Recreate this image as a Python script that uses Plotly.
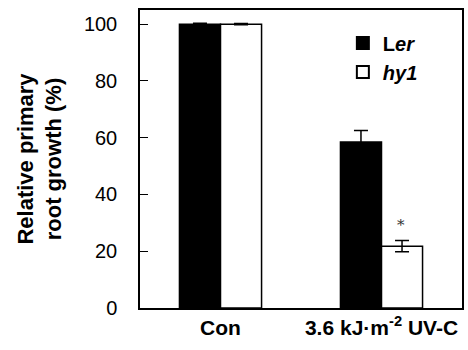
import plotly.graph_objects as go

categories = ["Con", "3.6 kJ·m<sup>-2</sup> UV-C"]
ler_values = [100, 58.5]
ler_errors = [0.3, 4.0]
hy1_values = [100, 21.8]
hy1_errors = [0.2, 2.0]
y_ticks = [0, 20, 40, 60, 80, 100]

fig = go.Figure()
fig.add_trace(go.Bar(
    x=categories, y=ler_values, name="L<i>er</i>",
    marker=dict(color="black", line=dict(color="black", width=1.5)),
    error_y=dict(type="data", array=ler_errors, color="black", thickness=1.5, width=7),
))
fig.add_trace(go.Bar(
    x=categories, y=hy1_values, name="<i>hy1</i>",
    marker=dict(color="white", line=dict(color="black", width=1.5)),
    error_y=dict(type="data", array=hy1_errors, color="black", thickness=1.5, width=7),
))
fig.add_annotation(x=categories[1], y=hy1_values[1] + hy1_errors[1] + 1.5, text="*",
                   showarrow=False, xshift=19, yanchor="bottom",
                   font=dict(family="DejaVu Serif", size=15, color="#333"))

fig.update_layout(
    width=468, height=350,
    margin=dict(l=140, r=6, t=10, b=42, autoexpand=False),
    plot_bgcolor="white", paper_bgcolor="white",
    barmode="group", bargap=0.49, bargroupgap=0,
    font=dict(family="Liberation Sans, Arial", color="black"),
    showlegend=True,
    legend=dict(x=0.63, y=0.955, xanchor="left", yanchor="top",
                font=dict(size=20, weight="bold"), bgcolor="rgba(0,0,0,0)",
                itemsizing="constant", tracegroupgap=0),
)
fig.update_xaxes(
    range=[-0.5, 1.5], showline=True, linecolor="black", linewidth=1.5, mirror=True,
    ticks="", tickfont=dict(size=21, weight="bold"), automargin=False,
)
fig.update_yaxes(
    range=[0, 105], tickvals=y_ticks, showline=True, linecolor="black", linewidth=1.5,
    mirror=True, ticks="inside", ticklen=8, tickwidth=1, tickcolor="black",
    tickfont=dict(size=20), ticklabelstandoff=17, showgrid=False, zeroline=False,
    automargin=False,
    title=dict(text="Relative primary<br>root growth (%)", font=dict(size=22, weight="bold"),
               standoff=16),
)
fig.write_html("out.html", config={"displayModeBar": False},
               post_script="document.body.style.margin='0';")
